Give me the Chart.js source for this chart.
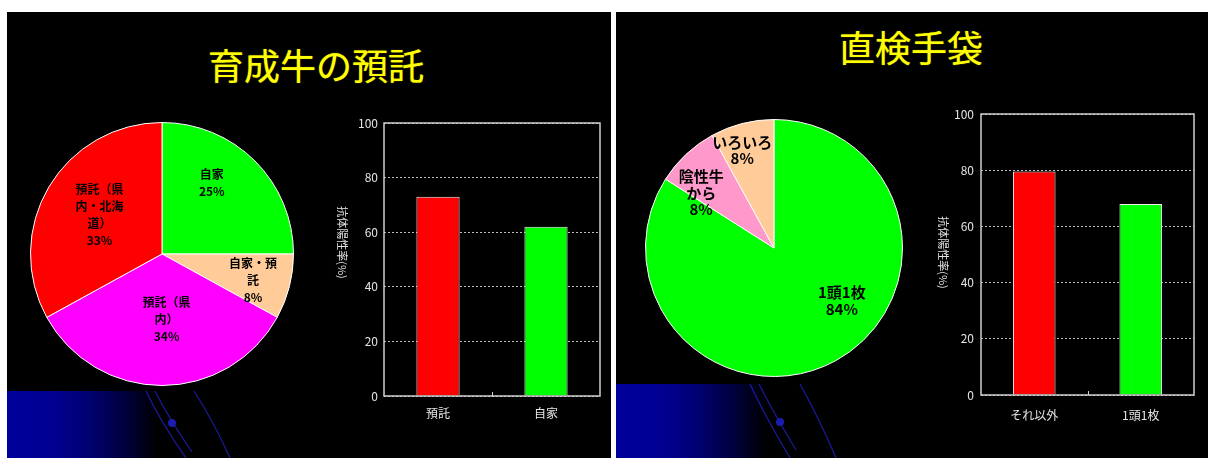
<!DOCTYPE html>
<html lang="ja">
<head>
<meta charset="utf-8">
<title>育成牛の預託・直検手袋</title>
<script src="https://cdn.jsdelivr.net/npm/chart.js@4.4.1/dist/chart.umd.min.js"></script>
<style>
  html, body { margin: 0; padding: 0; background: #ffffff; }
  #stage { position: relative; width: 1208px; height: 458px; overflow: hidden; background: #ffffff;
           font-family: "Noto Sans CJK JP", "Noto Sans", sans-serif; }
  .panel { position: absolute; top: 12px; height: 446px; background: #000000; }
  #panelA { left: 7px; width: 604px; }
  #panelB { left: 616px; width: 592px; }
  .title { position: absolute; color: #ffff00; font-size: 36px; line-height: 36px; white-space: nowrap;
           transform: translateX(-50%); text-shadow: 0 0 1px #bbbb00; }
  .deco { position: absolute; width: 152px;
          background: linear-gradient(to right, #00009c 0%, #000092 30%, #000070 55%, #00003c 78%, #000010 93%, #000000 100%); }
  #decoLines { position: absolute; left: 0; top: 0; }
  canvas { position: absolute; }
</style>
</head>
<body>
<div id="stage">
  <div class="panel" id="panelA"></div>
  <div class="panel" id="panelB"></div>

  <div class="deco" style="left:7px; top:391px; height:67px;"></div>
  <div class="deco" style="left:616px; top:384px; height:74px;"></div>
  <svg id="decoLines" width="1208" height="458">
    <g fill="none" stroke="#1a1a96" stroke-width="1.3">
      <path d="M146,391 Q160,421 186,458"/>
      <path d="M155,391 Q168,417 192,452"/>
      <path d="M194,391 Q214,422 230,458"/>
      <path d="M750,384 Q764,414 790,458"/>
      <path d="M759,384 Q772,410 796,450"/>
      <path d="M800,384 Q820,420 836,458"/>
    </g>
    <circle cx="172" cy="423" r="4" fill="#1c1cb0"/>
    <circle cx="780" cy="422" r="4" fill="#1c1cb0"/>
  </svg>

  <div class="title" style="left:316px; top:46px;">育成牛の預託</div>
  <div class="title" style="left:911px; top:28px;">直検手袋</div>

  <canvas id="trustPie" width="264" height="264" style="left:30px; top:122px;"></canvas>
  <canvas id="trustBar" width="290" height="330" style="left:320px; top:100px;"></canvas>
  <canvas id="glovePie" width="258" height="258" style="left:645px; top:119px;"></canvas>
  <canvas id="gloveBar" width="288" height="340" style="left:920px; top:90px;"></canvas>
</div>

<script>
// 育成牛の預託: 飼養形態の内訳 (%)
const trustCategories = [['自家'], ['自家・預', '託'], ['預託（県', '内）'], ['預託（県', '内・北海', '道）']];
const trustShares = [25, 8, 34, 33];
const trustColors = ['#00ff00', '#ffcc99', '#ff00ff', '#ff0000'];

// 直検手袋: 使い方の内訳 (%)
const gloveCategories = [['1頭1枚'], ['陰性牛', 'から'], ['いろいろ']];
const gloveShares = [84, 8, 8];
const gloveColors = ['#00ff00', '#ff99cc', '#ffcc99'];

// 抗体陽性率 (%)
const trustBarCategories = ['預託', '自家'];
const trustPositiveRates = [73, 62];
const gloveBarCategories = ['それ以外', '1頭1枚'];
const glovePositiveRates = [79.5, 68];
const barColors = ['#ff0000', '#00ff00'];

const rateTicks = [0, 20, 40, 60, 80, 100];
const rateAxisTitle = '抗体陽性率(%)';

const FONT = '"Noto Sans CJK JP", "Noto Sans", sans-serif';
const AXIS_TEXT = '#e4e4e4';

// Multi-line slice captions ("name / value%") placed at a polar spot inside each slice.
const sliceLabelPlugin = {
  id: 'sliceLabels',
  afterDatasetsDraw(chart, args, opts) {
    const meta = chart.getDatasetMeta(0);
    const values = chart.data.datasets[0].data;
    const ctx = chart.ctx;
    ctx.save();
    ctx.fillStyle = '#000000';
    ctx.font = `bold ${opts.size}px ${FONT}`;
    ctx.textAlign = 'center';
    ctx.textBaseline = 'middle';
    meta.data.forEach((arc, i) => {
      const [deg, frac] = opts.spots[i];
      const a = deg * Math.PI / 180;
      const r = arc.outerRadius * frac;
      const cx = arc.x + r * Math.sin(a);
      const cy = arc.y - r * Math.cos(a);
      const lines = [...chart.data.labels[i], values[i] + '%'];
      lines.forEach((t, k) => {
        ctx.fillText(t, cx, cy + (k - (lines.length - 1) / 2) * opts.lineHeight);
      });
    });
    ctx.restore();
  }
};

// Closed frame round the plot area plus the small tick between the two categories.
const framePlugin = {
  id: 'plotFrame',
  afterDraw(chart, args, opts) {
    const { ctx, chartArea: ca } = chart;
    const xs = chart.scales.x;
    ctx.save();
    ctx.strokeStyle = opts.color;
    ctx.lineWidth = 1.5;
    ctx.strokeRect(ca.left, ca.top, ca.right - ca.left, ca.bottom - ca.top);
    ctx.lineWidth = 1;
    for (let i = 0; i < chart.data.labels.length - 1; i++) {
      const x = Math.round((xs.getPixelForValue(i) + xs.getPixelForValue(i + 1)) / 2) + 0.5;
      ctx.beginPath();
      ctx.moveTo(x, ca.bottom);
      ctx.lineTo(x, ca.bottom - 4);
      ctx.stroke();
    }
    ctx.restore();
  }
};

// Vertical axis caption, written top-to-bottom.
const sideTitlePlugin = {
  id: 'sideTitle',
  afterDraw(chart, args, opts) {
    const { ctx, chartArea: ca } = chart;
    ctx.save();
    ctx.translate(opts.x, (ca.top + ca.bottom) / 2 + opts.shift);
    ctx.rotate(Math.PI / 2);
    ctx.fillStyle = AXIS_TEXT;
    ctx.font = `11px ${FONT}`;
    ctx.textAlign = 'center';
    ctx.textBaseline = 'middle';
    ctx.fillText(opts.text, 0, 0);
    ctx.restore();
  }
};

function shareChart(id, categories, shares, colors, labelOpts) {
  return new Chart(document.getElementById(id), {
    type: 'pie',
    data: {
      labels: categories,
      datasets: [{ data: shares, backgroundColor: colors, borderColor: '#ffffff', borderWidth: 1 }]
    },
    options: {
      responsive: false,
      animation: false,
      layout: { padding: 0 },
      plugins: { legend: { display: false }, tooltip: { enabled: false }, sliceLabels: labelOpts }
    },
    plugins: [sliceLabelPlugin]
  });
}

function rateChart(id, categories, rates, geo) {
  return new Chart(document.getElementById(id), {
    type: 'bar',
    data: {
      labels: categories,
      datasets: [{
        data: rates,
        backgroundColor: barColors,
        borderColor: '#f0f0f0',
        borderWidth: 1,
        categoryPercentage: 1,
        barPercentage: 0.4
      }]
    },
    options: {
      responsive: false,
      animation: false,
      layout: { padding: { top: geo.top, right: geo.right, left: 0, bottom: 0 } },
      plugins: {
        legend: { display: false },
        tooltip: { enabled: false },
        plotFrame: { color: '#d0d0d0' },
        sideTitle: { text: rateAxisTitle, x: geo.titleX, shift: geo.titleShift }
      },
      scales: {
        x: {
          grid: { display: false },
          border: { display: false },
          ticks: { color: AXIS_TEXT, font: { family: FONT, size: 12 }, padding: geo.xPad, maxRotation: 0 },
          afterFit(s) { s.height = geo.xHeight; }
        },
        y: {
          min: 0,
          max: 100,
          afterBuildTicks(s) { s.ticks = rateTicks.map(v => ({ value: v })); },
          grid: { color: '#bcbcbc', lineWidth: 1, drawTicks: false },
          border: { display: false, dash: [2, 2] },
          ticks: { color: AXIS_TEXT, font: { family: FONT, size: 12 }, padding: geo.yPad },
          afterFit(s) { s.width = geo.yWidth; }
        }
      }
    },
    plugins: [framePlugin, sideTitlePlugin]
  });
}

shareChart('trustPie', trustCategories, trustShares, trustColors, {
  size: 12, lineHeight: 17,
  spots: [[35, 0.66], [106, 0.72], [176, 0.5], [302, 0.56]]
});
shareChart('glovePie', gloveCategories, gloveShares, gloveColors, {
  size: 15, lineHeight: 16.5,
  spots: [[128, 0.67], [307, 0.71], [342, 0.8]]
});

rateChart('trustBar', trustBarCategories, trustPositiveRates,
  { top: 23, right: 10, yWidth: 64, xHeight: 34, xPad: 2, yPad: 6, titleX: 22, titleShift: -17 });
rateChart('gloveBar', gloveBarCategories, glovePositiveRates,
  { top: 24, right: 14, yWidth: 61, xHeight: 35, xPad: 5, yPad: 7, titleX: 23, titleShift: -2 });
</script>
</body>
</html>
